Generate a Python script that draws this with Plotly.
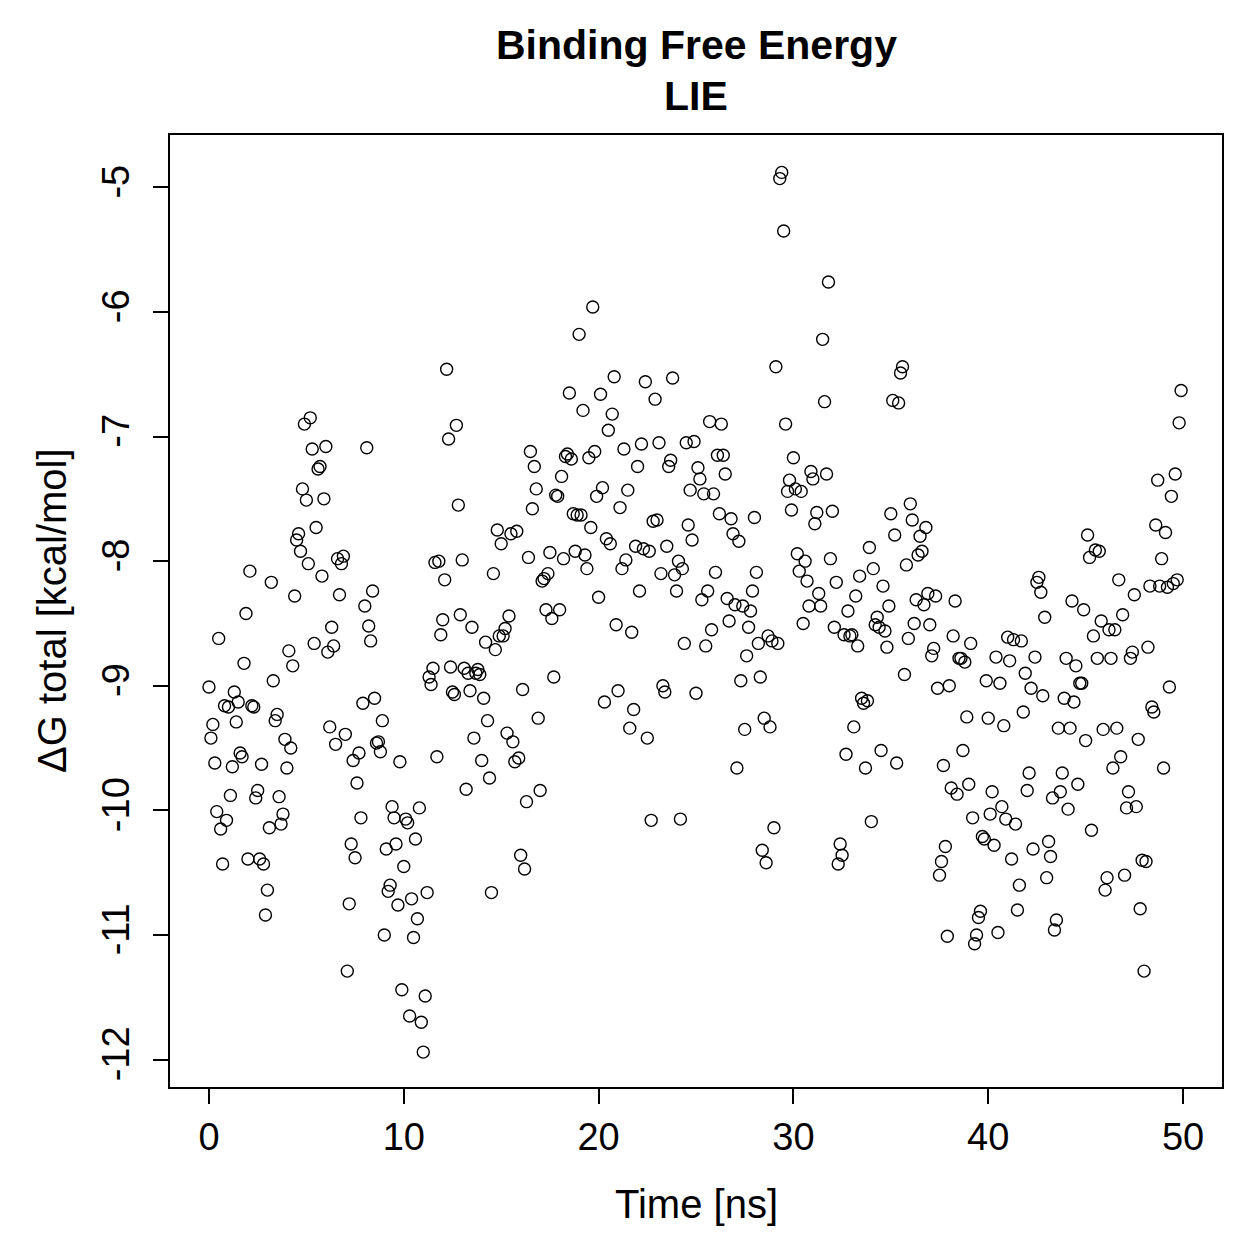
import plotly.graph_objects as go

# Delta G total [kcal/mol], one sample every 0.1 ns from 0 to 50 ns
dg_total = [
    -9.01, -9.42, -9.31, -9.62, -10.01, -8.62, -10.15, -10.43, -9.16, -10.08,
    -9.17, -9.88, -9.65, -9.05, -9.29, -9.13, -9.54, -9.57, -8.82, -8.42,
    -10.39, -8.08, -9.16, -9.17, -9.90, -9.84, -10.39, -9.63, -10.43, -10.84,
    -10.64, -10.14, -8.17, -8.96, -9.28, -9.23, -9.89, -10.11, -10.03, -9.43,
    -9.66, -8.72, -9.50, -8.84, -8.28, -7.83, -7.78, -7.92, -7.42, -6.90,
    -7.51, -8.02, -6.85, -7.10, -8.66, -7.73, -7.26, -7.24, -8.12, -7.50,
    -7.08, -8.73, -9.33, -8.53, -8.68, -9.47, -7.98, -8.27, -8.02, -7.96,
    -9.39, -11.29, -10.75, -10.27, -9.60, -10.38, -9.78, -9.54, -10.06, -9.14,
    -8.36, -7.09, -8.52, -8.64, -8.24, -9.10, -9.46, -9.45, -9.53, -9.28,
    -11.00, -10.31, -10.65, -10.60, -9.97, -10.06, -10.27, -10.76, -9.61, -11.44,
    -10.45, -10.07, -10.10, -11.65, -10.71, -11.02, -10.23, -10.87, -9.98, -11.70,
    -11.94, -11.49, -10.66, -8.93, -8.99, -8.86, -8.01, -9.57, -8.00, -8.59,
    -8.47, -8.15, -6.46, -7.02, -8.85, -9.05, -9.07, -6.91, -7.55, -8.43,
    -7.99, -8.86, -9.83, -8.90, -9.04, -8.53, -9.42, -8.90, -8.87, -8.91,
    -9.60, -9.10, -8.65, -9.28, -9.74, -10.66, -8.10, -8.71, -7.75, -8.60,
    -7.86, -8.60, -8.54, -9.38, -8.44, -7.78, -9.45, -9.61, -7.76, -9.58,
    -10.36, -9.03, -10.47, -9.93, -7.97, -7.12, -7.58, -7.24, -7.42, -9.26,
    -9.84, -8.16, -8.14, -8.39, -8.10, -7.93, -8.46, -8.93, -7.47, -7.48,
    -8.39, -7.32, -7.98, -7.16, -7.14, -6.65, -7.18, -7.62, -7.92, -7.63,
    -6.18, -7.63, -6.79, -7.95, -8.06, -7.17, -7.73, -5.96, -7.12, -7.48,
    -8.29, -6.66, -7.41, -9.13, -7.82, -6.95, -7.86, -6.82, -6.52, -8.51,
    -9.04, -7.57, -8.06, -7.10, -7.99, -7.43, -9.34, -8.57, -9.19, -7.88,
    -7.24, -8.24, -7.06, -7.90, -6.56, -9.42, -7.92, -10.08, -7.68, -6.70,
    -7.67, -7.05, -8.10, -9.00, -9.05, -7.88, -7.24, -7.19, -6.53, -8.11,
    -8.24, -8.00, -10.07, -8.06, -8.66, -7.05, -7.71, -7.43, -7.83, -7.04,
    -9.06, -7.25, -7.34, -8.31, -7.46, -8.68, -8.24, -6.88, -8.55, -7.46,
    -8.09, -7.15, -7.62, -6.90, -7.15, -7.30, -8.30, -8.48, -7.66, -7.78,
    -8.35, -9.66, -7.84, -8.96, -8.36, -9.35, -8.76, -8.53, -8.40, -8.24,
    -7.65, -8.09, -8.66, -8.93, -10.32, -9.26, -10.42, -8.60, -9.33, -8.64,
    -10.14, -6.44, -8.66, -4.93, -4.88, -5.35, -6.90, -7.44, -7.35, -7.59,
    -7.17, -7.42, -7.94, -8.08, -7.44, -8.50, -8.00, -8.16, -8.36, -7.28,
    -7.34, -7.70, -7.61, -8.26, -8.36, -6.22, -6.72, -7.30, -5.76, -7.98,
    -7.60, -8.53, -8.17, -10.43, -10.27, -10.36, -8.59, -9.55, -8.40, -8.60,
    -8.59, -9.33, -8.28, -8.68, -8.12, -9.10, -9.14, -9.66, -9.12, -7.89,
    -10.09, -8.06, -8.51, -8.45, -8.53, -9.52, -8.20, -8.56, -8.69, -8.36,
    -7.62, -6.71, -7.79, -9.62, -6.73, -6.49, -6.44, -8.91, -8.03, -8.62,
    -7.54, -7.67, -8.50, -8.31, -7.95, -7.80, -7.92, -8.35, -7.73, -8.26,
    -8.51, -8.76, -8.70, -8.28, -9.02, -10.52, -10.41, -9.64, -10.29, -11.01,
    -9.00, -9.82, -8.60, -8.32, -9.87, -8.78, -8.78, -9.52, -8.81, -9.25,
    -9.79, -8.66, -10.06, -11.07, -11.00, -10.86, -10.81, -10.21, -10.23, -8.96,
    -9.26, -10.03, -9.85, -10.28, -8.77, -10.98, -8.98, -9.97, -9.32, -10.07,
    -8.61, -8.80, -10.39, -8.63, -10.11, -10.80, -10.60, -8.64, -9.21, -8.90,
    -9.84, -9.70, -9.02, -10.31, -8.77, -8.17, -8.13, -8.25, -9.08, -8.45,
    -10.54, -10.25, -10.37, -9.90, -10.96, -10.88, -9.34, -9.85, -9.70, -9.10,
    -8.78, -9.99, -9.34, -8.32, -9.13, -8.84, -9.79, -8.98, -8.98, -8.39,
    -9.44, -7.79, -7.97, -10.16, -8.60, -7.91, -8.78, -7.92, -8.48, -9.35,
    -10.64, -10.54, -8.55, -8.78, -9.66, -8.55, -9.34, -8.15, -9.57, -8.43,
    -10.52, -9.98, -9.85, -8.78, -8.73, -8.27, -9.97, -9.43, -10.79, -10.40,
    -11.29, -10.41, -8.69, -8.20, -9.17, -9.21, -7.71, -7.35, -8.20, -7.98,
    -9.66, -7.77, -8.21, -9.01, -7.48, -8.18, -7.30, -8.15, -6.89, -6.63,
]
time_step_ns = 0.1
time_ns = [round(i * time_step_ns, 1) for i in range(len(dg_total))]

x_ticks = [0, 10, 20, 30, 40, 50]
y_ticks = [-5, -6, -7, -8, -9, -10, -11, -12]

FONT = "Liberation Sans, Arial, Helvetica, sans-serif"
TICK = 38
LAB = 40
TITLE = 41

# plot area in pixels (for annotation placement)
L, R, T, B = 170, 1222, 135, 1087
PW, PH = R - L, B - T


def px_x(p):
    return (p - L) / PW


def px_y(p):
    return (B - p) / PH


fig = go.Figure(
    go.Scatter(
        x=time_ns,
        y=dg_total,
        mode="markers",
        marker=dict(symbol="circle-open", size=12, color="black",
                    line=dict(width=1.4, color="black")),
        showlegend=False,
        hoverinfo="x+y",
    )
)

fig.update_layout(
    width=1259,
    height=1259,
    paper_bgcolor="white",
    plot_bgcolor="white",
    margin=dict(l=L, r=1259 - R, t=T, b=1259 - B),
    font=dict(family=FONT, size=TICK, color="black"),
    annotations=[
        dict(text="<b>Binding Free Energy</b>", xref="paper", yref="paper",
             x=0.5, y=px_y(45), xanchor="center", yanchor="middle",
             showarrow=False, font=dict(family=FONT, size=TITLE)),
        dict(text="<b>LIE</b>", xref="paper", yref="paper",
             x=0.5, y=px_y(96), xanchor="center", yanchor="middle",
             showarrow=False, font=dict(family=FONT, size=TITLE)),
        dict(text="Time [ns]", xref="paper", yref="paper",
             x=0.5, y=px_y(1204), xanchor="center", yanchor="middle",
             showarrow=False, font=dict(family=FONT, size=LAB)),
        dict(text="ΔG total [kcal/mol]", xref="paper", yref="paper",
             x=px_x(52), y=0.5, xanchor="center", yanchor="middle",
             textangle=-90, showarrow=False, font=dict(family=FONT, size=LAB)),
    ],
)

fig.update_xaxes(
    range=[-2, 52],
    tickvals=x_ticks,
    ticktext=[str(v) for v in x_ticks],
    ticks="outside",
    ticklen=15,
    tickwidth=2,
    tickcolor="black",
    showline=True,
    mirror=True,
    linecolor="black",
    linewidth=2,
    showgrid=False,
    zeroline=False,
    tickfont=dict(size=TICK),
)

fig.update_yaxes(
    range=[-12.22, -4.58],
    tickvals=y_ticks,
    ticktext=[str(v) for v in y_ticks],
    tickangle=-90,
    ticks="outside",
    ticklen=15,
    tickwidth=2,
    tickcolor="black",
    ticklabelstandoff=9,
    showline=True,
    mirror=True,
    linecolor="black",
    linewidth=2,
    showgrid=False,
    zeroline=False,
    tickfont=dict(size=TICK),
)

fig.write_html("out.html")
